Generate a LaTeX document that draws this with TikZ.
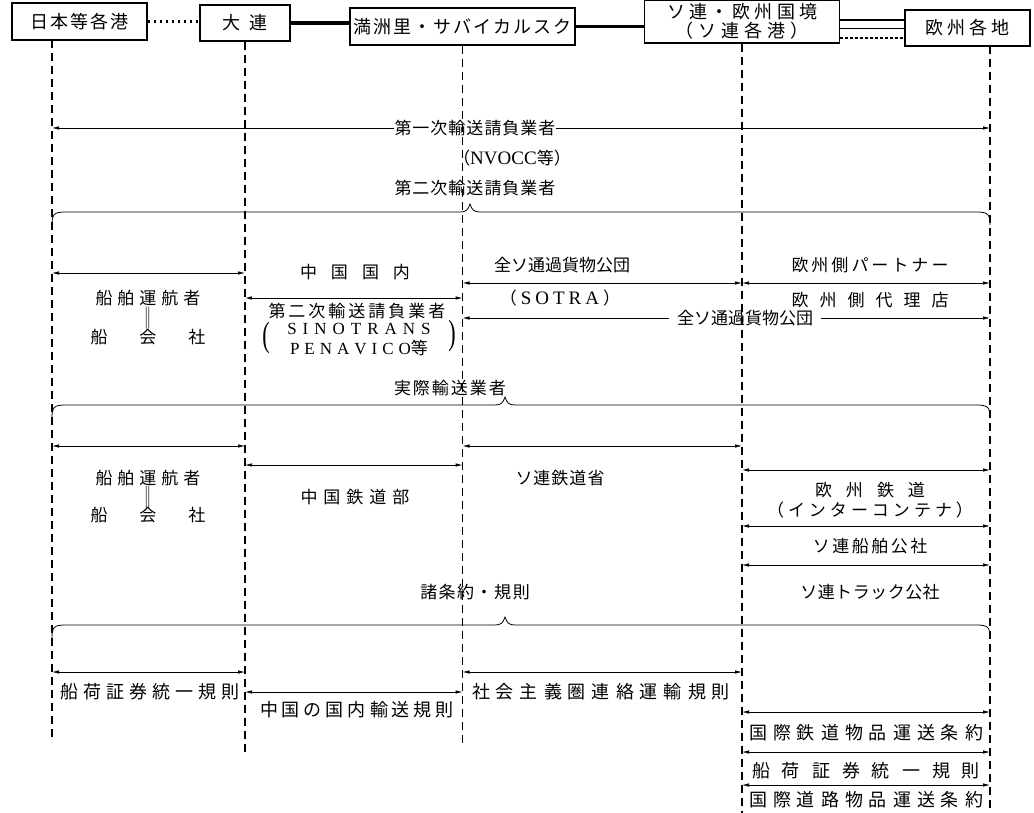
\documentclass[tikz,border=0pt]{standalone}
\usepackage{fontspec}
\usepackage{graphicx}
\setmainfont{Liberation Serif}
\newfontfamily\jpf{Noto Sans CJK JP}
\newfontfamily\latf{Liberation Serif}
\usetikzlibrary{arrows.meta,calc}
\ExplSyntaxOn
\NewDocumentCommand\tracked{mm}
 {
  \bool_set_true:N \l_tmpa_bool
  \tl_map_inline:nn {#2}
   {
    \bool_if:NF \l_tmpa_bool { \hspace*{#1} }
    \bool_set_false:N \l_tmpa_bool
    ##1
   }
 }
\ExplSyntaxOff
\newcommand\fsz[1]{\fontsize{#1}{#1}\selectfont}
\newcommand\mybrace[2]{\draw[brc] (52,#1+13) .. controls (52,#1+2) and (54,#1) .. (66,#1) -- (#2-10,#1) .. controls (#2-4,#1) and (#2-2,#1-2) .. (#2,#1-8) .. controls (#2+2,#1-2) and (#2+4,#1) .. (#2+10,#1) -- (976,#1) .. controls (988,#1) and (990,#1+2) .. (990,#1+13);}
\tikzset{
  lbl/.style={inner sep=0pt, font=\jpf\fsz{17}},
  big/.style={inner sep=0pt, font=\jpf\fsz{18}},
  box/.style={draw, line width=1.4pt, inner sep=0pt, font=\jpf\fsz{18}},
  vl/.style={line width=1.1pt, dash pattern=on 8pt off 5pt},
  arr/.style={line width=0.7pt, arrows={Latex[length=7pt,width=3.5pt]-Latex[length=7pt,width=3.5pt]}},
  tip/.style={line width=0.7pt, arrows={-Latex[length=7pt,width=3.5pt]}},
  heavy/.style={line width=3.2pt},
  dots/.style={line width=2.4pt, dash pattern=on 2.5pt off 3.5pt},
  brc/.style={line width=0.8pt},
  paren/.style={font=\latf\fsz{22}, inner sep=0pt},
}
\begin{document}
\begin{tikzpicture}[x=1pt,y=-1pt]
\fill[white] (0,0) rectangle (1034,813);
\useasboundingbox (0,0) rectangle (1034,813);
% top boxes
\node[box, minimum width=135pt, minimum height=37pt] (b1) at (79.5,21.5) {\tracked{2pt}{日本等各港}};
\node[box, minimum width=90pt, minimum height=36pt] (b2) at (245,23) {\tracked{10pt}{大連}};
\node[box, minimum width=225pt, minimum height=37pt] (b3) at (462.5,26.5) {\tracked{2pt}{満洲里・サバイカルスク}};
\node[box, minimum width=195pt, minimum height=43pt, align=center] (b4) at (742,21.5) {\tracked{4pt}{ソ連・欧州国境}\\[1pt]\tracked{5pt}{（ソ連各港）}};
\node[box, minimum width=125pt, minimum height=36pt] (b5) at (967.5,28) {\tracked{4pt}{欧州各地}};
\draw[dots] (b1.east) -- (b1.east -| b2.west);
\draw[heavy] (b2.east) -- (b2.east -| b3.west);
\draw[heavy] (b3.east) -- (b3.east -| b4.west);
\draw[line width=2.6pt] (b4.east |- 0,20) -- (b5.west |- 0,20);
\draw[line width=1pt] (b4.east |- 0,29) -- (b5.west |- 0,29);
\draw[line width=1.8pt, dash pattern=on 3pt off 2pt] (b4.east |- 0,38) -- (b5.west |- 0,38);
% vertical dashed lines
\coordinate (A0) at (52,40);   \coordinate (A1) at (52,742);
\coordinate (B0) at (b2.south); \coordinate (B1) at (245,755);
\coordinate (C0) at (b3.south); \coordinate (C1) at (462.5,745);
\coordinate (D0) at (b4.south); \coordinate (D1) at (742,813);
\coordinate (E0) at (990,46);  \coordinate (E1) at (990,813);
\draw[vl] (A0) -- (A1);
\draw[vl] (B0) -- (B1);
\draw[vl] (C0) -- (C1);
\draw[vl] (D0) -- (D1);
\draw[vl] (E0) -- (E1);
% row 1
\node[lbl] (t1) at (475,128) {\tracked{1pt}{第一次輸送請負業者}};
\draw[tip] (t1.west) -- (A0 |- t1);
\draw[tip] (t1.east) -- (E0 |- t1);
\node[lbl] (t2) at (512,158) {（{\latf\fsz{19}NVOCC}等）};
\node[lbl] (t3) at (475,188) {\tracked{1pt}{第二次輸送請負業者}};
\mybrace{212}{470}
% row 2
\draw[arr] (A0 |- 0,273) -- (B0 |- 0,273);
\node[lbl] (t4) at (355,272) {\tracked{14pt}{中国国内}};
\node[lbl] (t5) at (562,265) {全ソ通過貨物公団};
\draw[arr] (C0 |- 0,283) -- (D0 |- 0,283);
\node[lbl] (t6) at (870,265) {\tracked{3pt}{欧州側パートナー}};
\draw[arr] (D0 |- 0,283) -- (E0 |- 0,283);
\node[lbl] (t7) at (148,298) {\tracked{5pt}{船舶運航者}};
\node[lbl] (t8) at (148,318) {\scalebox{1}[1.3]{‖}};
\node[lbl] (t9) at (148,337) {\tracked{32pt}{船会社}};
\draw[arr] (B0 |- 0,298) -- (C0 |- 0,298);
\node[lbl] (t10) at (560,298) {（\hspace{4pt}{\latf\fsz{19}\tracked{4pt}{SOTRA}}\hspace{4pt}）};
\node[lbl] (t11) at (870,300) {\tracked{11pt}{欧州側代理店}};
\node[lbl] (t12) at (357,311) {\tracked{3pt}{第二次輸送請負業者}};
\node[inner sep=0pt, font=\latf\fsz{17}] (t13) at (359,329) {\tracked{6pt}{SINOTRANS}};
\node[lbl] (t14) at (359,348) {{\latf\fsz{17}\tracked{5pt}{PENAVICO}}等};
\node[paren] (p1) at (266,338) {\scalebox{1}[1.6]{(}};
\node[paren] (p2) at (452,336) {\scalebox{1}[1.6]{)}};
\node[lbl] (t15) at (745,318) {全ソ通過貨物公団};
\draw[tip] ([xshift=-8pt]t15.west) -- (C0 |- t15);
\draw[tip] ([xshift=8pt]t15.east) -- (E0 |- t15);
\node[lbl] (t16) at (450,388) {\tracked{2pt}{実際輸送業者}};
\mybrace{405}{505}
% row 3
\draw[arr] (A0 |- 0,446) -- (B0 |- 0,446);
\draw[arr] (C0 |- 0,446) -- (D0 |- 0,446);
\draw[arr] (B0 |- 0,465) -- (C0 |- 0,465);
\draw[arr] (D0 |- 0,470) -- (E0 |- 0,470);
\node[lbl] (t17) at (148,478) {\tracked{5pt}{船舶運航者}};
\node[lbl] (t18) at (148,497) {\scalebox{1}[1.3]{‖}};
\node[lbl] (t19) at (148,515) {\tracked{32pt}{船会社}};
\node[lbl] (t20) at (355,497) {\tracked{6pt}{中国鉄道部}};
\node[lbl] (t21) at (560,478) {\tracked{1pt}{ソ連鉄道省}};
\node[lbl] (t22) at (870,490) {\tracked{14pt}{欧州鉄道}};
\node[lbl] (t23) at (870,510) {\tracked{4pt}{（インターコンテナ）}};
\draw[arr] (D0 |- 0,526) -- (E0 |- 0,526);
\node[lbl] (t24) at (870,546) {\tracked{2.5pt}{ソ連船舶公社}};
\draw[arr] (D0 |- 0,565) -- (E0 |- 0,565);
\node[lbl] (t25) at (870,592) {\tracked{0.5pt}{ソ連トラック公社}};
\node[lbl] (t26) at (475,592) {\tracked{1.5pt}{諸条約・規則}};
\mybrace{625}{505}
% row 4
\draw[arr] (A0 |- 0,672) -- (B0 |- 0,672);
\draw[arr] (C0 |- 0,672) -- (D0 |- 0,672);
\node[big] (t27) at (150,692) {\tracked{5pt}{船荷証券統一規則}};
\draw[arr] (B0 |- 0,692) -- (C0 |- 0,692);
\node[big] (t28) at (357,710) {\tracked{4pt}{中国の国内輸送規則}};
\node[big] (t29) at (601,692) {\tracked{6pt}{社会主義圏連絡運輸規則}};
\draw[arr] (D0 |- 0,712) -- (E0 |- 0,712);
\node[big] (t30) at (866,733) {\tracked{6pt}{国際鉄道物品運送条約}};
\draw[arr] (D0 |- 0,752) -- (E0 |- 0,752);
\node[big] (t31) at (866,771) {\tracked{12pt}{船荷証券統一規則}};
\draw[arr] (D0 |- 0,785) -- (E0 |- 0,785);
\node[big] (t32) at (866,800) {\tracked{6pt}{国際道路物品運送条約}};
\end{tikzpicture}
\end{document}
